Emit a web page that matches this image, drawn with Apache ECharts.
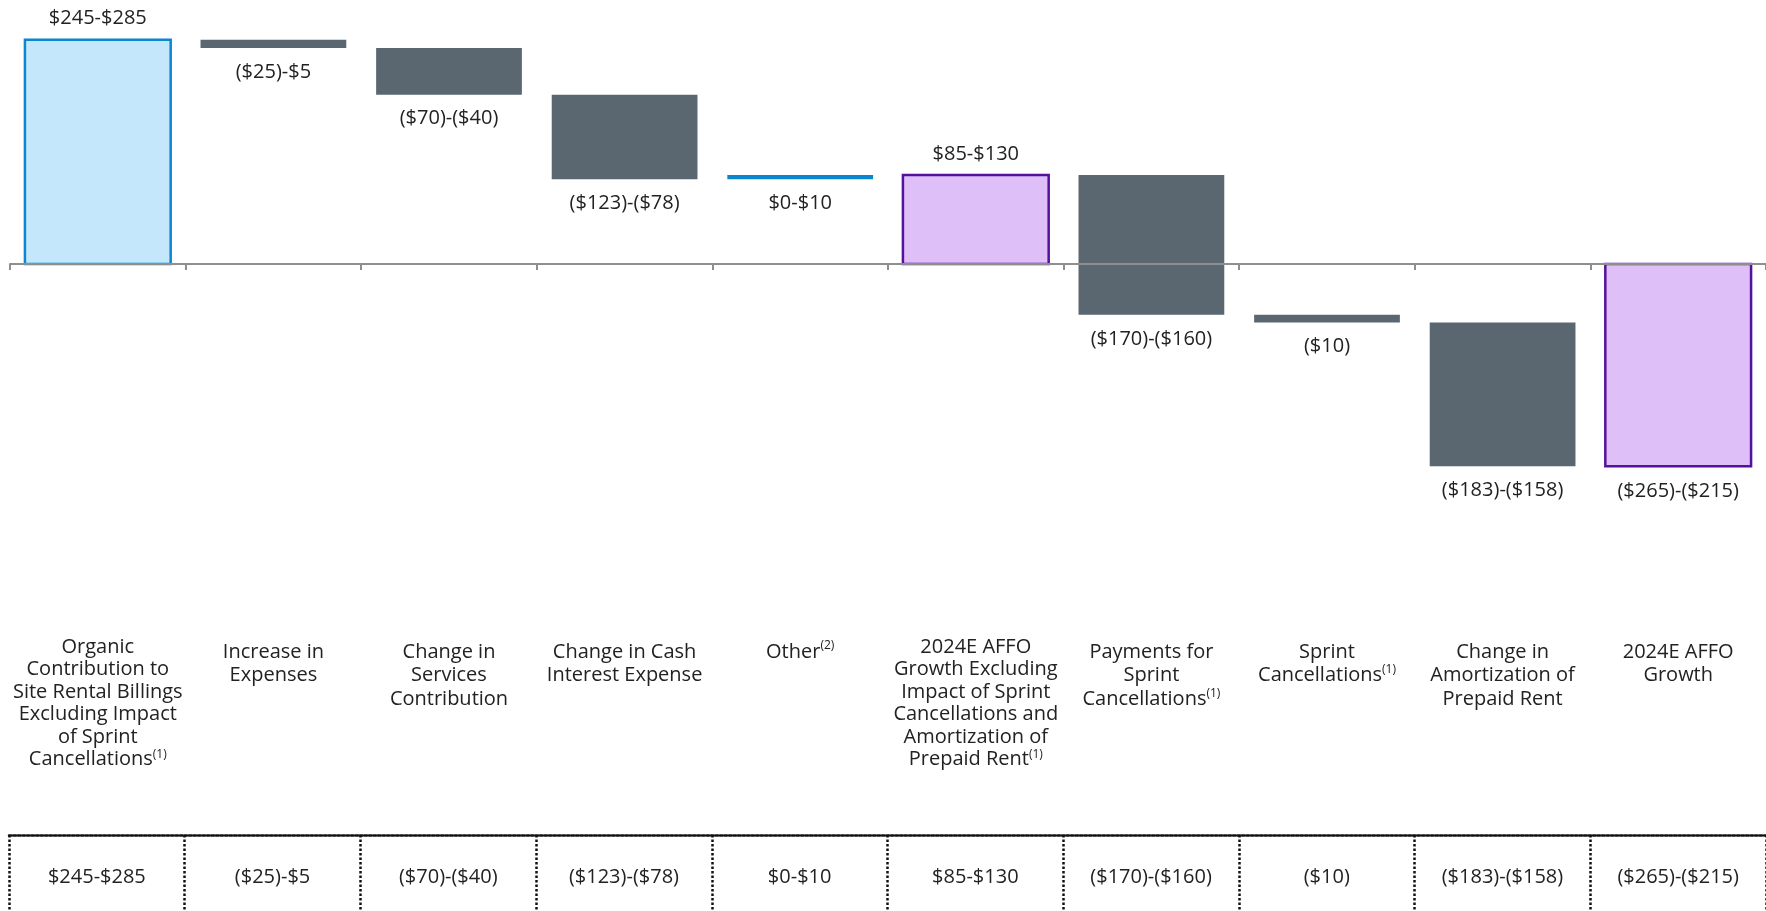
<!DOCTYPE html>
<html>
<head>
<meta charset="utf-8">
<script src="https://cdn.jsdelivr.net/npm/echarts@6/dist/echarts.min.js"></script>
<style>
html, body { margin: 0; padding: 0; background: #fff; }
#chart { width: 1766px; height: 911px; }
</style>
</head>
<body>
<div id="chart"></div>
<script>
// bridge categories (names only, footnote marks kept apart)
var categories = [
    'Organic\nContribution to\nSite Rental Billings\nExcluding Impact\nof Sprint\nCancellations',
    'Increase in\nExpenses',
    'Change in\nServices\nContribution',
    'Change in Cash\nInterest Expense',
    'Other',
    '2024E AFFO\nGrowth Excluding\nImpact of Sprint\nCancellations and\nAmortization of\nPrepaid Rent',
    'Payments for\nSprint\nCancellations',
    'Sprint\nCancellations',
    'Change in\nAmortization of\nPrepaid Rent',
    '2024E AFFO\nGrowth'
];
var footnotes = ['(1)', '', '', '', '(2)', '(1)', '(1)', '(1)', '', ''];

// floating bar bottom / top, $ millions (range midpoints as drawn)
var barLow  = [0,   255, 200, 100, 100, 0,   -60, -69, -239, -239];
var barHigh = [265, 265, 255, 200, 105, 105, 105, -60, -69,  0];

var rangeLabels = ['$245-$285', '($25)-$5', '($70)-($40)', '($123)-($78)', '$0-$10',
    '$85-$130', '($170)-($160)', '($10)', '($183)-($158)', '($265)-($215)'];

var barKinds = ['start', 'delta', 'delta', 'delta', 'other', 'subtotal', 'delta', 'delta', 'delta', 'subtotal'];

var kindStyles = {
    start: {fill: '#C4E7FB', stroke: '#0B86D0', lineWidth: 2.5},
    delta: {fill: '#5B6770', stroke: null, lineWidth: 0},
    other: {fill: '#0A86CF', stroke: null, lineWidth: 0},
    subtotal: {fill: '#DFBFF8', stroke: '#55109C', lineWidth: 2.5}
};

var FONT = 'Open Sans';
var TXT = '#222222';

var myChart = echarts.init(document.getElementById('chart'));

var dotted = {color: '#111111', width: 2.5, type: [2.5, 2]};

function categoryLabel(value, index) {
    var sup = footnotes[index] ? '{sup|' + footnotes[index] + '}' : '';
    if (value.split('\n').length > 4) {
        return value + sup;
    }
    // short labels sit a little lower with looser spacing
    return '{pad|}\n{b|' + value + '}' + sup;
}

myChart.setOption({
    animation: false,
    grid: [
        {left: 10, right: -2, top: 10, height: 508},
        {left: 10, right: -2, top: 600, height: 30},
        {left: 9, right: -6, top: 835, height: 76}
    ],
    xAxis: [
        {
            gridIndex: 0,
            type: 'category',
            data: categories,
            z: 5,
            axisLine: {onZero: true, lineStyle: {color: '#8f8f8f', width: 2}},
            axisTick: {show: true, interval: 0, length: 6, lineStyle: {color: '#8f8f8f', width: 2}},
            axisLabel: {show: false},
            splitLine: {show: false}
        },
        {
            gridIndex: 1,
            type: 'category',
            data: categories,
            axisLine: {show: false},
            axisTick: {show: false},
            axisLabel: {
                interval: 0,
                margin: 6,
                verticalAlign: 'top',
                lineHeight: 22.5,
                fontSize: 20,
                fontFamily: FONT,
                color: TXT,
                formatter: categoryLabel,
                rich: {
                    pad: {lineHeight: 4},
                    b: {fontSize: 20, fontFamily: FONT, color: TXT, lineHeight: 23.6},
                    sup: {fontSize: 12, fontFamily: FONT, color: TXT, verticalAlign: 'top', lineHeight: 14}
                }
            }
        },
        {
            gridIndex: 2,
            type: 'category',
            position: 'top',
            data: rangeLabels,
            axisLine: {show: true, onZero: false, lineStyle: dotted},
            axisTick: {show: false},
            splitLine: {show: true, interval: 0, lineStyle: dotted},
            axisLabel: {
                interval: 0,
                inside: true,
                margin: 42,
                verticalAlign: 'middle',
                fontSize: 20,
                fontFamily: FONT,
                color: TXT
            }
        }
    ],
    yAxis: [
        {gridIndex: 0, type: 'value', min: -300, max: 300, show: false},
        {gridIndex: 1, type: 'value', show: false},
        {gridIndex: 2, type: 'value', min: 0, max: 1, show: false}
    ],
    series: [
        {
            type: 'custom',
            xAxisIndex: 0,
            yAxisIndex: 0,
            z: 2,
            data: categories.map(function (c, i) {
                return [i, barLow[i], barHigh[i]];
            }),
            renderItem: function (params, api) {
                var i = api.value(0);
                var low = api.value(1);
                var high = api.value(2);
                var top = api.coord([i, high]);
                var bot = api.coord([i, low]);
                var w = api.size([1, 0])[0] * 0.83;
                var st = kindStyles[barKinds[i]];
                var up = low === 0 && high > 0;
                return {
                    type: 'rect',
                    shape: {x: top[0] - w / 2, y: top[1], width: w, height: bot[1] - top[1]},
                    style: {fill: st.fill, stroke: st.stroke, lineWidth: st.lineWidth},
                    textContent: {
                        style: {text: rangeLabels[i], fill: TXT, fontSize: 20, fontFamily: FONT}
                    },
                    textConfig: {position: up ? 'top' : 'bottom', distance: up ? 10 : 14}
                };
            }
        }
    ]
});

window.onresize = function () {
    myChart.resize();
};
</script>
</body>
</html>
